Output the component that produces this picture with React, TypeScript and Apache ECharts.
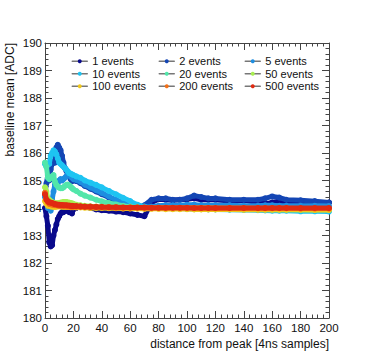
import React, { useEffect, useRef } from "react";
import * as echarts from "echarts";

const distance = [
  0, 1, 2, 3, 4, 5, 6, 7, 8, 9, 10, 11, 12, 13, 14, 15, 16, 17, 18, 19, 20,
  22, 25, 28, 32, 36, 40, 45, 50, 55, 60, 65, 70, 75, 80, 85, 90, 95, 100,
  105, 110, 115, 120, 130, 140, 150, 155, 160, 165, 170, 180, 190, 200,
];

const seriesNames = [
  "1 events", "2 events", "5 events",
  "10 events", "20 events", "50 events",
  "100 events", "200 events", "500 events",
];

const seriesColors = [
  "#0a0a8c", "#1446b4", "#1e8ee0",
  "#1ec4f2", "#52e6aa", "#a8ee52",
  "#f0c81c", "#f27018", "#e02a12",
];

const ev1 = [
  184.0, 183.7, 183.35, 182.75, 182.6, 182.65, 183.0, 183.2, 183.4, 183.6, 183.7,
  183.8, 183.85, 183.85, 183.9, 183.9, 183.9, 183.85, 183.85, 183.8, 183.95,
  184.0, 184.05, 184.05, 184.0, 183.95, 183.92, 183.9, 183.87, 183.85, 183.8,
  183.75, 183.7, 184.2, 184.32, 184.3, 184.28, 184.3, 184.32, 184.35, 184.3,
  184.3, 184.3, 184.25, 184.28, 184.2, 184.15, 184.2, 184.25, 184.22, 184.2, 184.2, 184.2,
];

const ev2 = [
  184.5, 184.9, 185.2, 185.0, 185.4, 185.6, 185.7, 185.65, 186.2, 186.3, 186.2,
  186.1, 185.9, 185.65, 185.45, 185.35, 185.25, 185.2, 185.05, 184.98, 185.0,
  184.98, 184.9, 184.8, 184.7, 184.6, 184.5, 184.38, 184.25, 184.15, 184.05,
  184.0, 184.1, 184.3, 184.35, 184.35, 184.3, 184.3, 184.35, 184.45, 184.4,
  184.35, 184.35, 184.3, 184.3, 184.3, 184.35, 184.42, 184.38, 184.3, 184.28, 184.25, 184.2,
];

const ev5 = [
  184.4, 184.3, 184.0, 184.2, 183.9, 184.3, 184.6, 184.85, 184.95, 184.9, 185.0,
  185.05, 185.0, 185.05, 185.1, 185.15, 185.2, 185.2, 185.15, 185.1, 185.05,
  185.02, 184.95, 184.85, 184.75, 184.65, 184.55, 184.42, 184.3, 184.2, 184.12,
  184.05, 184.02, 184.05, 184.08, 184.1, 184.1, 184.1, 184.12, 184.12, 184.1,
  184.1, 184.1, 184.1, 184.08, 184.08, 184.1, 184.1, 184.08, 184.08, 184.08, 184.08, 184.07,
];

const ev10 = [
  185.6, 185.5, 185.6, 185.6, 185.9, 186.0, 186.1, 186.05, 185.95, 185.8, 185.65,
  185.6, 185.55, 185.5, 185.45, 185.4, 185.33, 185.27, 185.25, 185.22, 185.2,
  185.15, 185.1, 185.0, 184.92, 184.84, 184.75, 184.62, 184.5, 184.37, 184.25,
  184.12, 184.05, 184.0, 184.0, 184.0, 183.98, 183.98, 183.97, 183.96, 183.96,
  183.95, 183.95, 183.94, 183.93, 183.92, 183.91, 183.9, 183.9, 183.9, 183.88, 183.88, 183.87,
];

const ev20 = [
  185.65, 185.5, 185.1, 185.05, 185.1, 185.15, 185.2, 184.95, 184.84, 184.78, 184.74,
  184.72, 184.72, 184.75, 184.8, 184.84, 184.85, 184.82, 184.78, 184.72, 184.68,
  184.62, 184.52, 184.45, 184.38, 184.3, 184.24, 184.18, 184.13, 184.08, 184.05,
  184.02, 184.0, 184.0, 183.99, 183.99, 183.98, 183.98, 183.98, 183.97, 183.97,
  183.97, 183.96, 183.96, 183.95, 183.95, 183.95, 183.94, 183.94, 183.94, 183.93, 183.93, 183.93,
];

const ev50 = [
  184.75, 184.6, 184.35, 184.3, 184.25, 184.2, 184.2, 184.18, 184.17, 184.17, 184.18,
  184.2, 184.2, 184.22, 184.22, 184.22, 184.2, 184.2, 184.18, 184.17, 184.15,
  184.12, 184.1, 184.08, 184.06, 184.05, 184.04, 184.03, 184.03, 184.02, 184.02,
  184.02, 184.01, 184.01, 184.01, 184.0, 184.0, 184.0, 184.0, 184.0, 184.0,
  184.0, 183.99, 183.99, 183.99, 183.98, 183.98, 183.98, 183.98, 183.97, 183.97, 183.97, 183.97,
];

const ev100 = [
  184.25, 184.15, 184.08, 184.1, 184.06, 184.05, 184.05, 184.04, 184.05, 184.06, 184.06,
  184.06, 184.05, 184.05, 184.05, 184.04, 184.04, 184.04, 184.03, 184.03, 184.03,
  184.02, 184.02, 184.01, 184.0, 184.0, 184.0, 183.99, 183.99, 183.98, 183.98,
  183.98, 183.97, 183.97, 183.97, 183.96, 183.96, 183.96, 183.96, 183.95, 183.95,
  183.95, 183.95, 183.95, 183.94, 183.94, 183.94, 183.94, 183.94, 183.94, 183.94, 183.93, 183.93,
];

const ev200 = [
  184.55, 184.3, 184.2, 184.15, 184.14, 184.12, 184.12, 184.1, 184.1, 184.09, 184.08,
  184.08, 184.08, 184.07, 184.07, 184.06, 184.06, 184.06, 184.05, 184.05, 184.05,
  184.05, 184.04, 184.04, 184.03, 184.03, 184.02, 184.02, 184.01, 184.01, 184.01,
  184.01, 184.0, 184.0, 184.0, 184.0, 184.0, 184.0, 184.0, 184.0, 184.0,
  184.0, 183.99, 183.99, 183.99, 183.99, 183.99, 183.99, 183.99, 183.99, 183.98, 183.98, 183.98,
];

const ev500 = [
  184.5, 184.3, 184.25, 184.2, 184.2, 184.18, 184.16, 184.14, 184.13, 184.12, 184.12,
  184.11, 184.11, 184.1, 184.1, 184.1, 184.09, 184.09, 184.08, 184.08, 184.07,
  184.07, 184.06, 184.05, 184.05, 184.04, 184.04, 184.03, 184.03, 184.02, 184.02,
  184.02, 184.02, 184.01, 184.01, 184.01, 184.01, 184.01, 184.01, 184.0, 184.0,
  184.0, 184.0, 184.0, 184.0, 184.0, 184.0, 184.0, 184.0, 184.0, 184.0, 184.0, 184.0,
];

const allValues = [ev1, ev2, ev5, ev10, ev20, ev50, ev100, ev200, ev500];

const xTickInterval = 20;
const yTickInterval = 1;

const FONT = "Liberation Sans, Arial, Helvetica, sans-serif";

export default function App() {
  const ref = useRef<HTMLDivElement>(null);

  useEffect(() => {
    if (!ref.current) return;
    const chart = echarts.init(ref.current, undefined, { renderer: "svg" });

    const axisLine = { show: true, onZero: false, lineStyle: { color: "#444", width: 1 } };
    const axisTick = { show: true, inside: true, length: 7, lineStyle: { color: "#444" } };
    const minorTick = { show: true, splitNumber: 5, length: 3.5, lineStyle: { color: "#444" } };
    const labelStyle = { fontFamily: FONT, fontSize: 11.5, color: "#111" };

    const series = seriesNames.map((name, i) => ({
      name,
      type: "line",
      data: distance.map((x, k) => [x, allValues[i][k]]),
      symbol: "circle",
      symbolSize: 6,
      showSymbol: true,
      itemStyle: { color: seriesColors[i] },
      lineStyle: { color: seriesColors[i], width: 5, cap: "round", join: "round" },
      emphasis: { disabled: true },
      z: 2 + i,
    }));

    const legendCols = [0, 1, 2].map((c) => ({
      orient: "vertical",
      left: [71.5, 158.5, 244.5][c],
      top: 55,
      padding: 0,
      itemGap: 0,
      itemWidth: 15,
      itemHeight: 5,
      data: [seriesNames[c], seriesNames[c + 3], seriesNames[c + 6]],
      lineStyle: { color: "#777", width: 1.5 },
      textStyle: { fontFamily: FONT, fontSize: 11, color: "#111", lineHeight: 12.5 },
      selectedMode: false,
    }));

    chart.setOption({
      animation: false,
      backgroundColor: "#ffffff",
      grid: { left: 45, right: 45, top: 43, bottom: 44, containLabel: false, outerBoundsMode: "none" },
      legend: legendCols,
      xAxis: [
        {
          type: "value",
          min: 0,
          max: 200,
          interval: xTickInterval,
          position: "bottom",
          axisLine,
          axisTick,
          minorTick,
          splitLine: { show: false },
          minorSplitLine: { show: false },
          axisLabel: { ...labelStyle, margin: 4 },
        },
        {
          type: "value",
          min: 0,
          max: 200,
          interval: xTickInterval,
          position: "top",
          axisLine,
          axisTick,
          minorTick,
          splitLine: { show: false },
          axisLabel: { show: false },
        },
      ],
      yAxis: [
        {
          type: "value",
          min: 180,
          max: 190,
          interval: yTickInterval,
          position: "left",
          axisLine,
          axisTick,
          minorTick,
          splitLine: { show: false },
          minorSplitLine: { show: false },
          axisLabel: { ...labelStyle, margin: 3 },
        },
        {
          type: "value",
          min: 180,
          max: 190,
          interval: yTickInterval,
          position: "right",
          axisLine,
          axisTick,
          minorTick,
          splitLine: { show: false },
          axisLabel: { show: false },
        },
      ],
      graphic: [
        {
          type: "text",
          right: 45,
          top: 338,
          style: {
            text: "distance from peak [4ns samples]",
            fontFamily: FONT,
            fontSize: 12,
            fill: "#111",
          },
        },
        {
          type: "text",
          x: 4,
          y: 43,
          rotation: Math.PI / 2,
          style: {
            text: "baseline mean [ADC]",
            fontFamily: FONT,
            fontSize: 12,
            fill: "#111",
            align: "right",
            verticalAlign: "top",
          },
        },
      ],
      series,
    });

    return () => chart.dispose();
  }, []);

  return (
    <div
      ref={ref}
      style={{ position: "fixed", left: 0, top: 0, width: 374, height: 362 }}
    />
  );
}
